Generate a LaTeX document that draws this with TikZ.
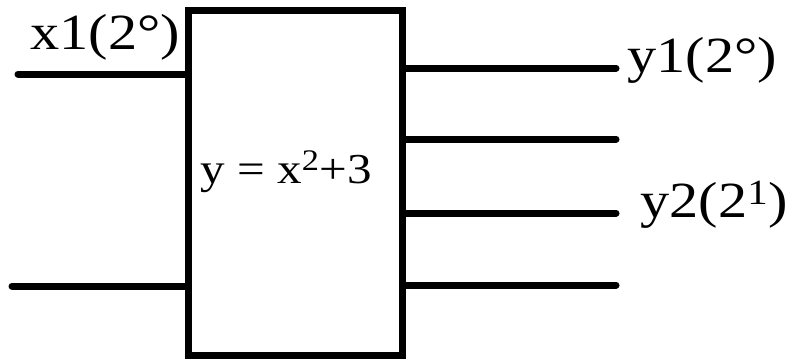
\documentclass[tikz,border=0pt]{standalone}
\usepackage{graphicx}
\usepackage{fontspec}
\setmainfont{Liberation Serif}
\newcommand{\widetxt}[1]{\scalebox{1.15}[1]{#1}}
\begin{document}
\begin{tikzpicture}[x=0.75pt,y=-0.75pt,line width=5.25pt,line cap=round,
  blkbox/.style={draw,inner sep=0pt,minimum width=160.5pt,minimum height=258pt},
  lbl/.style={inner sep=0pt,anchor=base west,font=\fontsize{38}{43}\selectfont},
  eqn/.style={inner sep=0pt,anchor=base west,font=\fontsize{32}{37}\selectfont}]
  \useasboundingbox (0,0) rectangle (787,360);
  \node[blkbox] (blk) at (295,183) {};
  % inputs
  \coordinate (in1) at (18,74);  \coordinate (in2) at (12,286);
  \draw[line cap=butt] (in1) -- (in1 -| blk.west);
  \draw[line cap=butt] (in2) -- (in2 -| blk.west);
  \draw (in1) -- +(1,0); \draw (in2) -- +(1,0);
  % outputs
  \foreach \yy/\nm in {68/o1,139/o2,213/o3,285/o4}{
    \coordinate (\nm) at (616,\yy);
    \draw (\nm) -- (\nm -| blk.east);
  }
  % labels
  \node[lbl] (lx1) at (27,50) {\widetxt{x1(2°)}};
  \node[lbl] (ly1) at (624,72) {\widetxt{y1(2°)}};
  \node[lbl] (ly2) at (637,217) {\widetxt{y2(2\textsuperscript{1})}};
  \node[eqn] (feq) at (197,183) {\widetxt{y = x\textsuperscript{2}+3}};
\end{tikzpicture}
\end{document}
